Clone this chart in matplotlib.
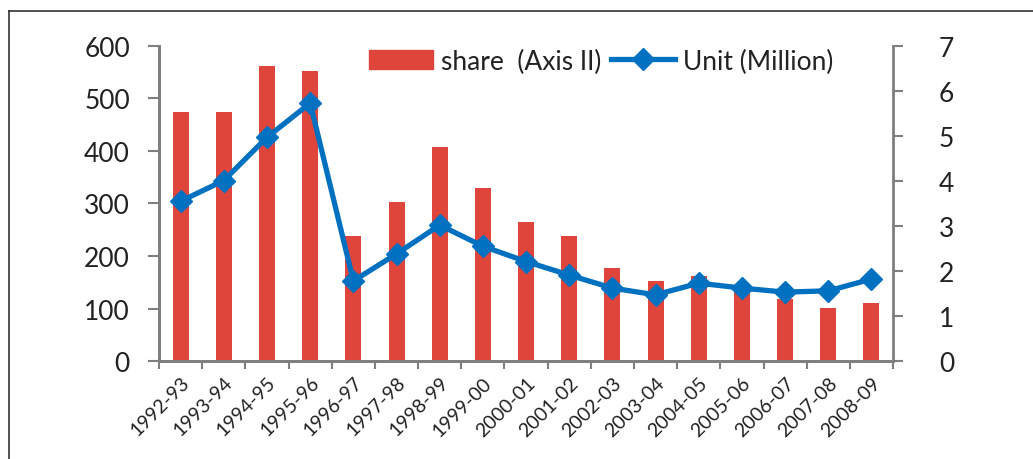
import numpy as np
import matplotlib.pyplot as plt
from matplotlib.lines import Line2D
from matplotlib.patches import Patch

plt.rcParams["font.family"] = ["Lato", "DejaVu Sans"]

years = ["1992-93", "1993-94", "1994-95", "1995-96", "1996-97", "1997-98",
         "1998-99", "1999-00", "2000-01", "2001-02", "2002-03", "2003-04",
         "2004-05", "2005-06", "2006-07", "2007-08", "2008-09"]
share = [475, 475, 561, 553, 239, 303, 407, 329, 264, 239, 178, 152,
         161, 140, 118, 101, 110]
units = [3.55, 4.01, 4.97, 5.73, 1.78, 2.38, 3.02, 2.55, 2.21, 1.91, 1.62,
         1.47, 1.73, 1.62, 1.53, 1.56, 1.82]

bar_color = "#E0453C"
line_color = "#0070C0"
axis_color = "#7F7F7F"

fig = plt.figure(figsize=(10.33, 4.6), dpi=100)
ax = fig.add_axes([0.154, 0.213, 0.7105, 0.685])
ax2 = ax.twinx()

x = np.arange(len(years))
ax.bar(x, share, width=0.37, color=bar_color)
ax2.plot(x, units, color=line_color, lw=3.8, marker="D", markersize=11)

ax.set_xlim(-0.5, len(years) - 0.5)
ax.set_ylim(0, 600)
ax2.set_ylim(0, 7)
ax.set_yticks(range(0, 601, 100))
ax2.set_yticks(range(0, 8))

# x ticks at category boundaries, labels at centres
ax.set_xticks(np.arange(-0.5, len(years), 1.0))
ax.set_xticklabels([])
ax.set_xticks(x, minor=True)
ax.set_xticklabels(years, minor=True, rotation=45, ha="right",
                   rotation_mode="anchor", fontsize=14, color="#222222")
ax.tick_params(axis="x", which="minor", length=0, pad=9)
ax.tick_params(axis="x", which="major", length=6, width=1.5,
               color=axis_color, direction="out")

ax.tick_params(axis="y", length=8, width=1.5, color=axis_color,
               labelsize=19, labelcolor="#222222", pad=13)
ax2.tick_params(axis="y", length=7, width=1.5, color=axis_color,
                labelsize=19, labelcolor="#222222", pad=26)

for a in (ax, ax2):
    a.spines["top"].set_visible(False)
    for s in ("left", "right", "bottom"):
        a.spines[s].set_color(axis_color)
        a.spines[s].set_linewidth(2)
ax.spines["right"].set_visible(False)

handles = [Patch(color=bar_color),
           Line2D([0], [0], color=line_color, lw=3.8, marker="D", markersize=11)]
fig.legend(handles, ["share  (Axis II)", "Unit (Million)"], ncol=2,
           loc="center", bbox_to_anchor=(0.582, 0.865), frameon=False,
           fontsize=19, handlelength=2.4, handletextpad=0.3, columnspacing=0.4,
           labelcolor="#222222")

# outer frame (top and left edges visible)
fig.add_artist(Line2D([0.009, 1.0], [0.974, 0.974], transform=fig.transFigure,
                      color="#333333", lw=1.2))
fig.add_artist(Line2D([0.009, 0.009], [0.0, 0.974], transform=fig.transFigure,
                      color="#333333", lw=1.2))

fig.savefig("out.png", dpi=100)
